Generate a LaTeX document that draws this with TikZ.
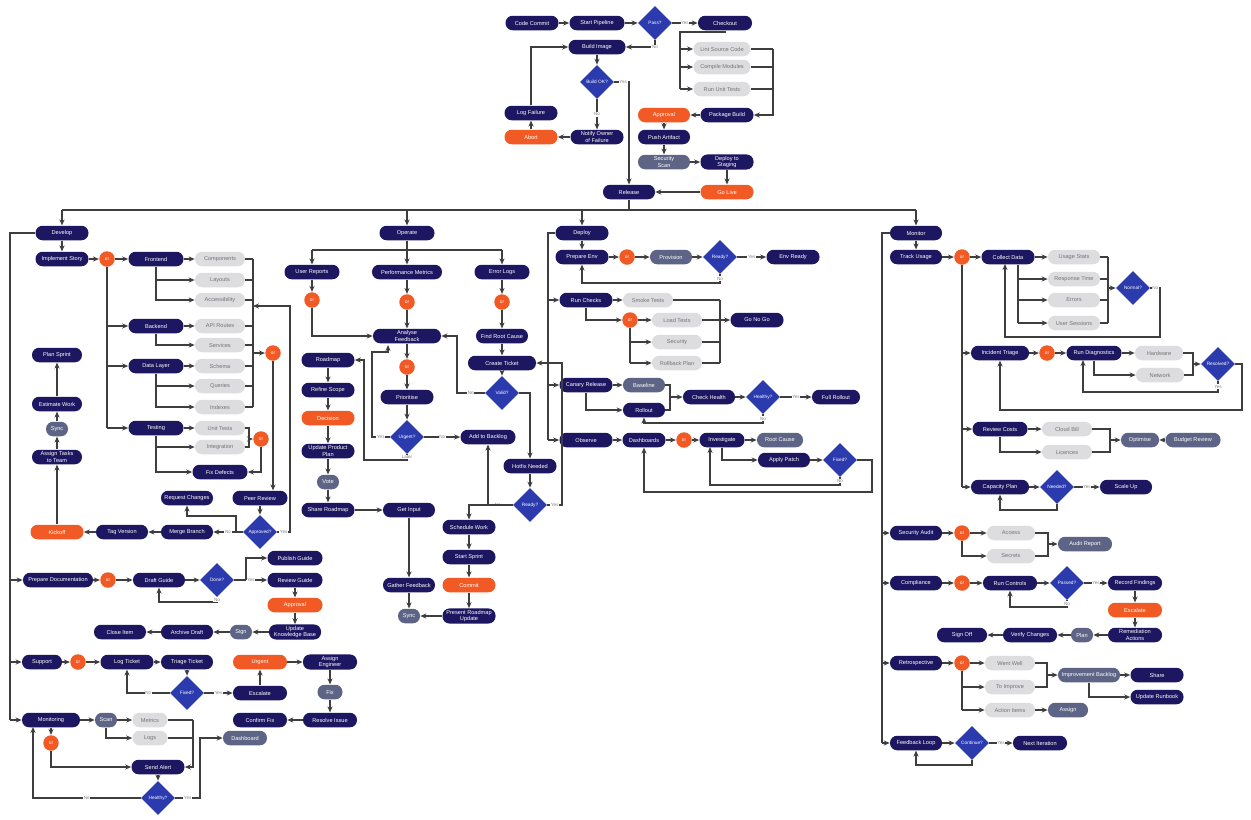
\documentclass[tikz,border=0pt]{standalone}
\usepackage{fontspec}
\setmainfont{Liberation Sans}
\usetikzlibrary{shapes.geometric,arrows.meta}
\definecolor{inkblue}{HTML}{1D1660}
\definecolor{flame}{HTML}{F15A24}
\definecolor{mist}{HTML}{DDDDE0}
\definecolor{slate}{HTML}{5E6485}
\definecolor{royal}{HTML}{2B3BAE}
\definecolor{wirec}{HTML}{3E3E3E}
\tikzset{
  box/.style={rectangle, rounded corners=4pt, minimum height=0.29cm, inner sep=1pt, align=center, font=\fontsize{3.2}{3.6}\selectfont},
  proc/.style={box, fill=inkblue, text=white},
  act/.style={box, fill=flame, text=white},
  opt/.style={box, fill=mist, text=black!55},
  sub/.style={box, fill=slate, text=white},
  dec/.style={diamond, aspect=1, fill=royal, text=white, inner sep=0pt, minimum width=0.68cm, minimum height=0.68cm, align=center, font=\fontsize{2.7}{3}\selectfont},
  junc/.style={circle, fill=flame, text=white, inner sep=0pt, minimum size=0.31cm, font=\fontsize{2.7}{3}\selectfont},
  wire/.style={draw=wirec, line width=0.75pt},
  link/.style={wire, -{Stealth[length=3.4pt,width=2.9pt]}},
  lbl/.style={fill=white, inner sep=0.4pt, text=black!50, font=\fontsize{2.6}{3}\selectfont}
}
\begin{document}
\begin{tikzpicture}[x=0.02cm,y=-0.02cm]
      \fill[white] (0,0) rectangle (1251,819);
      \useasboundingbox (0,0) rectangle (1251,819);
      \def \Procs{
        t1/532/23/53/Code Commit,
        t2/597/23/55/Start Pipeline,
        t3/725/23/54/Checkout,
        t4/597/47/57/Build Image,
        t5/531/113/53/Log Failure,
        t6/597/137/53/Notify Owner\\of Failure,
        t7/727/115/53/Package Build,
        t8/664/137/52/Push Artifact,
        t9/727/162/53/Deploy to\\Staging,
        t10/629/192/52/Release,
        a1/62/233/53/Develop,
        a2/62/259/53/Implement Story,
        b1/156/259/55/Frontend,
        b2/156/326/55/Backend,
        b3/156/366/55/Data Layer,
        b4/156/428/55/Testing,
        b5/220/472/55/Fix Defects,
        b6/260/498/55/Peer Review,
        b7/187/498/52/Request Changes,
        b8/187/532/52/Merge Branch,
        b9/122/532/52/Tag Version,
        a3/57/355/50/Plan Sprint,
        a4/57/404/50/Estimate Work,
        a5/57/457/50/Assign Tasks\\to Team,
        a6/58/580/70/Prepare Documentation,
        a7/159/580/52/Draft Guide,
        a8/295/558/55/Publish Guide,
        a9/295/580/55/Review Guide,
        a10/295/632/52/Update\\Knowledge Base,
        a11/187/632/52/Archive Draft,
        a12/120/632/52/Close Item,
        a13/42/662/40/Support,
        a14/127/662/53/Log Ticket,
        a15/187/662/52/Triage Ticket,
        a16/260/693/54/Escalate,
        a17/330/662/54/Assign\\Engineer,
        a18/330/720/54/Resolve Issue,
        a19/260/720/54/Confirm Fix,
        a20/51/720/58/Monitoring,
        a21/158/767/53/Send Alert,
        m1/407/233/55/Operate,
        m2/312/272/55/User Reports,
        m3/407/272/70/Performance Metrics,
        m4/502/272/55/Error Logs,
        m5/407/336/68/Analyse\\Feedback,
        m6/502/336/52/Find Root Cause,
        m7/502/363/68/Create Ticket,
        m8/407/397/53/Prioritise,
        m9/488/437/55/Add to Backlog,
        m10/328/360/53/Roadmap,
        m11/328/390/53/Refine Scope,
        m12/328/451/53/Update Product\\Plan,
        m13/328/510/53/Share Roadmap,
        m14/409/510/52/Get Input,
        m15/409/585/52/Gather Feedback,
        m16/469/616/53/Present Roadmap\\Update,
        m17/469/527/53/Schedule Work,
        m18/469/557/53/Start Sprint,
        m19/530/466/53/Hotfix Needed,
        r1/582/233/53/Deploy,
        r2/582/257/53/Prepare Env,
        r3/586/300/53/Run Checks,
        r6/793/257/53/Env Ready,
        r7/757/320/53/Go No Go,
        r8/586/385/53/Canary Release,
        r9/644/410/42/Rollout,
        r10/709/397/52/Check Health,
        r11/836/397/48/Full Rollout,
        r12/586/440/53/Observe,
        r13/644/440/43/Dashboards,
        r14/722/440/45/Investigate,
        r15/784/460/52/Apply Patch,
        q1/916/233/52/Monitor,
        q2/916/257/52/Track Usage,
        q3/1008/257/53/Collect Data,
        q4/1000/353/58/Incident Triage,
        q5/1000/429/55/Review Costs,
        q6/1000/487/58/Capacity Plan,
        q7/1094/353/55/Run Diagnostics,
        q8/1126/487/52/Scale Up,
        q9/916/533/52/Security Audit,
        q10/916/583/52/Compliance,
        q11/1010/583/54/Run Controls,
        q12/1135/583/54/Record Findings,
        q13/1135/635/54/Remediation\\Actions,
        q14/1030/635/54/Verify Changes,
        q15/962/635/50/Sign Off,
        q16/916/663/52/Retrospective,
        q17/1157/675/53/Share,
        q18/1157/697/53/Update Runbook,
        q19/916/743/52/Feedback Loop,
        q20/1040/743/54/Next Iteration}
      \def \Acts{
        ta1/531/137/53/Abort,
        ta2/664/115/52/Approval,
        ta3/727/192/53/Go Live,
        aa1/57/532/53/Kickoff,
        aa2/295/605/55/Approval,
        aa3/260/662/54/Urgent,
        ma1/328/418/53/Decision,
        ma2/469/585/53/Commit,
        qa1/1135/610/54/Escalate}
      \def \Opts{
        to1/722/49/57/Lint Source Code,
        to2/722/67/57/Compile Modules,
        to3/722/89/57/Run Unit Tests,
        ao1/220/259/50/Components,
        ao2/220/280/50/Layouts,
        ao3/220/300/50/Accessibility,
        ao4/220/326/50/API Routes,
        ao5/220/345/50/Services,
        ao6/220/366/50/Schema,
        ao7/220/386/50/Queries,
        ao8/220/407/50/Indexes,
        ao9/220/428/50/Unit Tests,
        ao10/220/447/50/Integration,
        ao11/150/720/35/Metrics,
        ao12/150/738/35/Logs,
        ro1/648/300/50/Smoke Tests,
        ro2/677/320/50/Load Tests,
        ro3/677/342/50/Security,
        ro4/677/363/50/Rollback Plan,
        qo1/1074/257/52/Usage Stats,
        qo2/1074/279/52/Response Time,
        qo3/1074/300/52/Errors,
        qo4/1074/323/52/User Sessions,
        qo5/1159/353/48/Hardware,
        qo6/1160/375/48/Network,
        qo7/1067/429/50/Cloud Bill,
        qo8/1067/452/50/Licences,
        qo9/1011/533/48/Access,
        qo10/1011/556/48/Secrets,
        qo11/1010/663/50/Went Well,
        qo12/1010/687/50/To Improve,
        qo13/1010/710/50/Action Items}
      \def \Subs{
        ts1/664/162/52/Security\\Scan,
        as1/57/429/22/Sync,
        as2/241/632/22/Sign,
        as3/330/692/25/Fix,
        as4/106/720/22/Scan,
        as5/245/738/44/Dashboard,
        ms1/328/482/22/Vote,
        ms2/409/616/22/Sync,
        rs1/671/257/42/Provision,
        rs2/644/385/42/Baseline,
        rs3/780/440/46/Root Cause,
        qs1/1140/440/38/Optimise,
        qs2/1193/440/55/Budget Review,
        qs3/1085/544/54/Audit Report,
        qs4/1082/635/22/Plan,
        qs5/1068/710/40/Assign,
        qs6/1089/675/62/Improvement Backlog}
      \def \Juncs{
        c1/107/259, c2/273/353, c3/261/439, c4/108/580, c5/78/662, c6/51/743,
        mc1/312/300, mc2/407/302, mc3/502/302, mc4/407/367,
        rc1/627/257, rc2/630/320, rc3/684/440,
        qc1/962/257, qc2/1047/353, qc3/962/533, qc4/962/583, qc5/962/663}
      \def \Decs{
        td1/655/23/Pass?,
        td2/597/82/Build OK?,
        ad1/260/532/Approved?,
        ad2/217/580/Done?,
        ad3/187/693/Fixed?,
        ad4/158/798/Healthy?,
        md1/407/437/Urgent?,
        md2/502/393/Valid?,
        md3/530/505/Ready?,
        rd1/720/257/Ready?,
        rd2/763/397/Healthy?,
        rd3/840/460/Fixed?,
        qd1/1133/288/Normal?,
        qd2/1218/364/Resolved?,
        qd3/1057/487/Needed?,
        qd4/1067/583/Passed?,
        qd5/972/743/Continue?}
      \foreach \id / \x / \y / \w / \txt in \Procs{
        \node[proc, minimum width=\w*0.02cm] (\id) at (\x, \y) {\txt};
      }
      \foreach \id / \x / \y / \w / \txt in \Acts{
        \node[act, minimum width=\w*0.02cm] (\id) at (\x, \y) {\txt};
      }
      \foreach \id / \x / \y / \w / \txt in \Opts{
        \node[opt, minimum width=\w*0.02cm] (\id) at (\x, \y) {\txt};
      }
      \foreach \id / \x / \y / \w / \txt in \Subs{
        \node[sub, minimum width=\w*0.02cm] (\id) at (\x, \y) {\txt};
      }
      \foreach \id / \x / \y in \Juncs{
        \node[junc] (\id) at (\x, \y) {or};
      }
      \foreach \id / \x / \y / \txt in \Decs{
        \node[dec] (\id) at (\x, \y) {\txt};
      }
      \def \Links{
        t1/t2, t2/td1, t6/ta1, ta1/t5, t7/ta2, ta2/t8, t8/ts1, ts1/t9, t9/ta3, ta3/t10, t4/td2,
        a1/a2, a2/c1, c1/b1, b1/ao1, b2/ao4, b3/ao6, b4/ao9, b6/ad1, b8/b9, b9/aa1,
        aa1/a5, a5/as1, as1/a4, a4/a3,
        a6/c4, c4/a7, a7/ad2, a9/aa2, aa2/a10, a10/as2, as2/a11, a11/a12,
        a13/c5, c5/a14, a14/a15, a15/ad3, a16/aa3, aa3/a17, a17/as3, as3/a18, a18/a19,
        a20/as4, as4/ao11, a20/c6, a21/ad4,
        m2/mc1, m3/mc2, mc2/m5, m4/mc3, mc3/m6, m6/m7, m7/md2, m5/mc4, mc4/m8, m8/md1,
        m10/m11, m11/ma1, ma1/m12, m12/ms1, ms1/m13, m13/m14, m14/m15, m15/ms2, m16/ms2,
        m17/m18, m18/ma2, ma2/m16, m19/md3,
        r1/r2, r2/rc1, rc1/rs1, rs1/rd1, r3/ro1, rc2/ro2, r8/rs2, r10/rd2,
        r12/r13, r13/rc3, rc3/r14, r14/rs3, r15/rd3,
        q1/q2, q2/qc1, qc1/q3, q3/qo1, q4/qc2, qc2/q7, q7/qo5, q5/qo7, qs2/qs1, q6/qd3,
        q9/qc3, qc3/qo9, q10/qc4, qc4/q11, q11/qd4, q12/qa1, qa1/q13, q13/qs4, qs4/q14, q14/q15,
        q16/qc5, qc5/qo11, qo13/qs5, qs6/q17, q19/qd5}
      \foreach \a / \b in \Links{
        \path[link] (\a) -- (\b);
      }
      \def \Answers{
        td1/t3/Yes, td2/t6/No, ad1/b8/No, ad2/a9/Yes, ad3/a16/Yes, md1/m9/No,
        rd1/r6/Yes, rd2/r11/Yes, qd3/q8/Yes, qd4/q12/Yes, qd5/q20/Yes}
      \foreach \a / \b / \t in \Answers{
        \path[link] (\a) -- node[lbl] {\t} (\b);
      }
      % top block
      \path[link] (td1.south) |- node[lbl] {No} (t4.east);
      \path[link] (td2.east) -| node[lbl, pos=0.3] {Yes} (t10.north);
      \path[link] (t5.north) |- (t4.west);
      \coordinate (tl) at (680,32);
      \coordinate (tr) at (773,49);
      \path[wire] (t3.south) |- (tl) -- (tl |- to3);
      \foreach \o in {to1,to2,to3}{
        \path[link] (tl |- \o) -- (\o.west);
        \path[wire] (\o.east) -- (tr |- \o);
      }
      \path[link] (tr |- to3) -- (tr) |- (t7.east);
      % main bus
      \coordinate (bus) at (0,210);
      \path[wire] (t10.south) -- (t10.south |- bus);
      \path[wire] (a1.north |- bus) -- (q1.north |- bus);
      \foreach \n in {a1,m1,r1,q1}{
        \path[link] (\n.north |- bus) -- (\n.north);
      }
      % develop
      \coordinate (al) at (10,0);
      \path[wire] (a1.west) -| (al |- a20);
      \foreach \n in {a6,a13,a20}{
        \path[link] (al |- \n) -- (\n.west);
      }
      \path[wire] (c1.south) -- (c1 |- b4);
      \foreach \n in {b2,b3,b4}{
        \path[link] (c1 |- \n) -- (\n.west);
      }
      \path[link] (b1.south) |- (ao3.west);
      \path[link] (b1.south |- ao2) -- (ao2.west);
      \path[link] (b2.south) |- (ao5.west);
      \path[link] (b3.south) |- (ao8.west);
      \path[link] (b3.south |- ao7) -- (ao7.west);
      \path[link] (b4.south) |- (b5.west);
      \path[link] (b4.south |- ao10) -- (ao10.west);
      \coordinate (ar) at (253,0);
      \foreach \o in {ao1,ao2,ao3,ao4,ao5,ao6,ao7,ao8}{
        \path[wire] (\o.east) -- (ar |- \o);
      }
      \path[wire] (ar |- ao1) -- (ar |- ao8);
      \path[link] (ar |- c2) -- (c2.west);
      \coordinate (cr) at (249,0);
      \path[wire] (ao9.east) -- (cr |- ao9) -- (cr |- ao10) -- (ao10.east);
      \path[link] (cr |- c3) -- (c3.west);
      \path[link] (c3.south) |- (b5.east);
      \path[link] (c2.south) -- (c2 |- b6.north);
      \path[link] (ad1.west) -- (236,532) -- (236,516) -| (b7.south);
      \path[link] (ad1.east) -- node[lbl] {Yes} (290,532) -- (290,306) -- (ar |- 0,306);
      \path[link] (246,580) |- (a8.west);
      \path[link] (ad2.south) -- node[lbl] {No} (217,602) -| (a7.south);
      \path[link] (ad3.west) -| node[lbl, pos=0.25] {No} (a14.south);
      \path[link] (as4.south) |- (ao12.west);
      \coordinate (amr) at (193,0);
      \path[wire] (ao11.east) -- (amr |- ao11);
      \path[wire] (ao12.east) -- (amr |- ao12);
      \path[link] (amr |- ao11) |- (a21.east);
      \path[link] (c6.south) |- (a21.west);
      \path[link] (ad4.west) -- node[lbl] {No} (33,798) -- (33,727);
      \path[link] (ad4.east) -- node[lbl] {Yes} (200,798) |- (as5.west);
      % operate
      \coordinate (mb) at (0,250);
      \path[wire] (m1.south) -- (m1.south |- mb);
      \path[wire] (m2.north |- mb) -- (m4.north |- mb);
      \foreach \n in {m2,m3,m4}{
        \path[link] (\n.north |- mb) -- (\n.north);
      }
      \path[link] (mc1.south) |- (m5.west);
      \path[link] (md1.west) -- node[lbl] {Yes} (372,437) |- (388,352) -- (388,345);
      \path[link] (md1.south) -- node[lbl] {Later} (407,460) -| (364,360) -- (m10.east);
      \path[link] (md2.west) -- node[lbl] {No} (457,393) |- (m5.east);
      \path[link] (md2.east) -| (m19.north);
      \path[link] (md3.west) -| node[lbl, pos=0.3] {No} (m9.south);
      \path[link] (md3.west) -| (m17.north);
      \path[link] (md3.east) -- node[lbl] {Yes} (562,505) |- (m7.east);
      % deploy
      \coordinate (rl) at (548,0);
      \path[wire] (r1.west) -| (rl |- r12);
      \foreach \n in {r3,r8,r12}{
        \path[link] (rl |- \n) -- (\n.west);
      }
      \path[link] (rd1.south) -- node[lbl] {No} (720,283) -| (r2.south);
      \path[link] (r3.south) |- (rc2.west);
      \path[wire] (rc2.south) -- (rc2 |- ro4);
      \path[link] (rc2 |- ro3) -- (ro3.west);
      \path[link] (rc2 |- ro4) -- (ro4.west);
      \coordinate (rr) at (720,0);
      \foreach \o in {ro1,ro2,ro3,ro4}{
        \path[wire] (\o.east) -- (rr |- \o);
      }
      \path[wire] (rr |- ro1) -- (rr |- ro4);
      \path[link] (rr |- r7) -- (r7.west);
      \path[link] (r8.south) |- (r9.west);
      \coordinate (rm) at (670,0);
      \path[wire] (rs2.east) -- (rm |- rs2) -- (rm |- r9) -- (r9.east);
      \path[link] (rm |- r10) -- (r10.west);
      \path[link] (rd2.south) -- node[lbl] {No} (763,423) -| (r9.south);
      \path[link] (r14.south) |- (r15.west);
      \path[link] (rd3.south) -- node[lbl] {No} (840,485) -| (710,447);
      \path[link] (rd3.east) -| (872,492) -| (r13.south);
      % monitor
      \coordinate (ql) at (882,0);
      \path[wire] (q1.west) -| (ql |- q19);
      \foreach \n in {q9,q10,q16,q19}{
        \path[link] (ql |- \n) -- (\n.west);
      }
      \path[wire] (qc1.south) -- (qc1 |- q6);
      \foreach \n in {q4,q5,q6}{
        \path[link] (qc1 |- \n) -- (\n.west);
      }
      \coordinate (qb) at (1018,0);
      \path[wire] (qb |- q3.south) -- (qb |- qo4);
      \foreach \o in {qo2,qo3,qo4}{
        \path[link] (qb |- \o) -- (\o.west);
      }
      \coordinate (qr) at (1108,0);
      \foreach \o in {qo1,qo2,qo3,qo4}{
        \path[wire] (\o.east) -- (qr |- \o);
      }
      \path[wire] (qr |- qo1) -- (qr |- qo4);
      \path[link] (qr |- qd1) -- (qd1.west);
      \path[link] (qd1.east) -- node[lbl] {No} (1160,288) |- (1005,337) -- (1005,264);
      \path[link] (q7.south) |- (qo6.west);
      \coordinate (qr2) at (1193,0);
      \path[wire] (qo5.east) -- (qr2 |- qo5) -- (qr2 |- qo6) -- (qo6.east);
      \path[link] (qr2 |- qd2) -- (qd2.west);
      \path[link] (qd2.east) -- (1242,364) |- (1000,410) -- (q4.south);
      \path[link] (qd2.south) -- node[lbl] {Yes} (1218,392) -| (1083,360);
      \path[link] (q5.south) |- (qo8.west);
      \coordinate (qr3) at (1110,0);
      \path[wire] (qo7.east) -- (qr3 |- qo7) -- (qr3 |- qo8) -- (qo8.east);
      \path[link] (qr3 |- qs1) -- (qs1.west);
      \path[link] (qd3.south) -- (1057,510) -| (q6.south);
      \path[link] (qc3.south) |- (qo10.west);
      \coordinate (qr4) at (1048,0);
      \path[wire] (qo9.east) -- (qr4 |- qo9) -- (qr4 |- qo10) -- (qo10.east);
      \path[link] (qr4 |- qs3) -- (qs3.west);
      \path[link] (qd4.south) -- node[lbl] {No} (1067,607) -| (q11.south);
      \path[wire] (qc5.south) -- (qc5 |- qo13);
      \path[link] (qc5 |- qo12) -- (qo12.west);
      \path[link] (qc5 |- qo13) -- (qo13.west);
      \coordinate (qr5) at (1047,0);
      \path[wire] (qo11.east) -- (qr5 |- qo11) -- (qr5 |- qo12) -- (qo12.east);
      \path[link] (qr5 |- qs6) -- (qs6.west);
      \path[link] (qs6.south) |- (q18.west);
      \path[link] (qd5.south) -- (972,765) -| (q19.south);
    \end{tikzpicture}
\end{document}
